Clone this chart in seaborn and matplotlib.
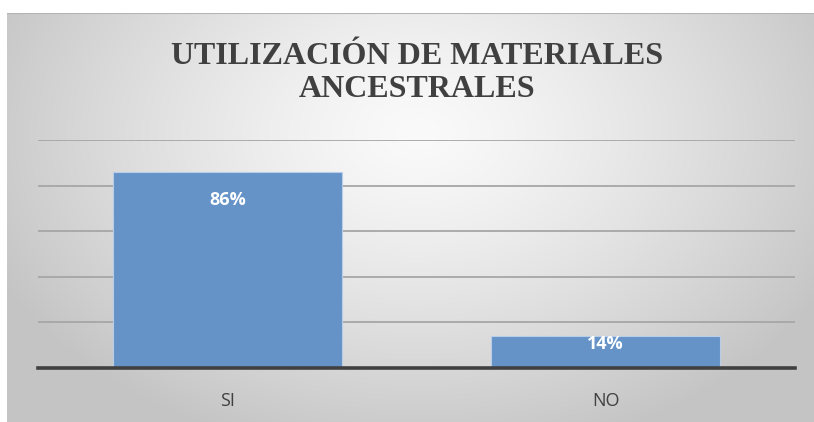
#%% Packages
import numpy as np
import pandas as pd
import matplotlib
matplotlib.use('Agg')
import matplotlib.pyplot as plt
import seaborn as sns

#%% Data
categorias = ['SI', 'NO']
porcentajes = [0.86, 0.14]
etiquetas = ['86%', '14%']
titulo = 'UTILIZACIÓN DE MATERIALES\nANCESTRALES'

#%% Figure + background gradient
W, H = 814, 422
fig = plt.figure(figsize=(W / 100, H / 100), dpi=100)
fig.patch.set_facecolor('white')

bg = fig.add_axes([7 / W, 0, (W - 7) / W, (H - 13) / H])
yy, xx = np.mgrid[0:409, 0:807]
r = np.sqrt(((xx - 410) / 470) ** 2 + ((yy - 120) / 330) ** 2)
val = 250 - (250 - 196) * np.clip(r, 0, 1) ** 1.3
img = np.dstack([val, val, val]) / 255
bg.imshow(img, aspect='auto', extent=[0, 1, 0, 1])
bg.axhline(1, color='#b4b4b4', lw=1.5)
bg.set_xlim(0, 1)
bg.set_ylim(0, 1)
bg.axis('off')

#%% Bars
ax = fig.add_axes([38 / W, 1 - 368 / H, 757 / W, 228 / H])
ax.patch.set_alpha(0)
df = pd.DataFrame({'respuesta': categorias, 'porcentaje': porcentajes})
sns.barplot(data=df, x='respuesta', y='porcentaje', color='#6593c8', saturation=1,
            width=0.605, edgecolor='#b9cde8', linewidth=0.8, ax=ax, zorder=3)

ax.set_xlim(-0.5, 1.5)
ax.set_ylim(0, 1)
ax.set_yticks(np.arange(0.2, 1.01, 0.2))
ax.yaxis.grid(True, color='#a6a6a6', lw=1.3)
ax.set_axisbelow(True)
ax.tick_params(axis='y', left=False, labelleft=False)
ax.tick_params(axis='x', length=0, pad=17, labelsize=13, labelcolor='#404040')
for lbl in ax.get_xticklabels():
    lbl.set_family('Open Sans')
for s in ['left', 'right', 'top']:
    ax.spines[s].set_visible(False)
ax.spines['bottom'].set_color('#404040')
ax.spines['bottom'].set_linewidth(2.6)
ax.spines['bottom'].set_zorder(4)
ax.set_xlabel('')
ax.set_ylabel('')

# data labels, inside end
for i, (v, lab) in enumerate(zip(porcentajes, etiquetas)):
    off = -14 if v * 228 > 60 else 1
    ax.annotate(lab, (i, v), xytext=(0, off), textcoords='offset points',
                ha='center', va='top', color='white', fontsize=13,
                fontweight='bold', family='Open Sans', zorder=5)

#%% Title
fig.text(417 / W, 1 - 73 / H, titulo, ha='center', va='center', fontsize=23,
         fontweight='bold', family='Liberation Serif', color='#404040',
         linespacing=1.22)

fig.savefig('out.png', dpi=100)
